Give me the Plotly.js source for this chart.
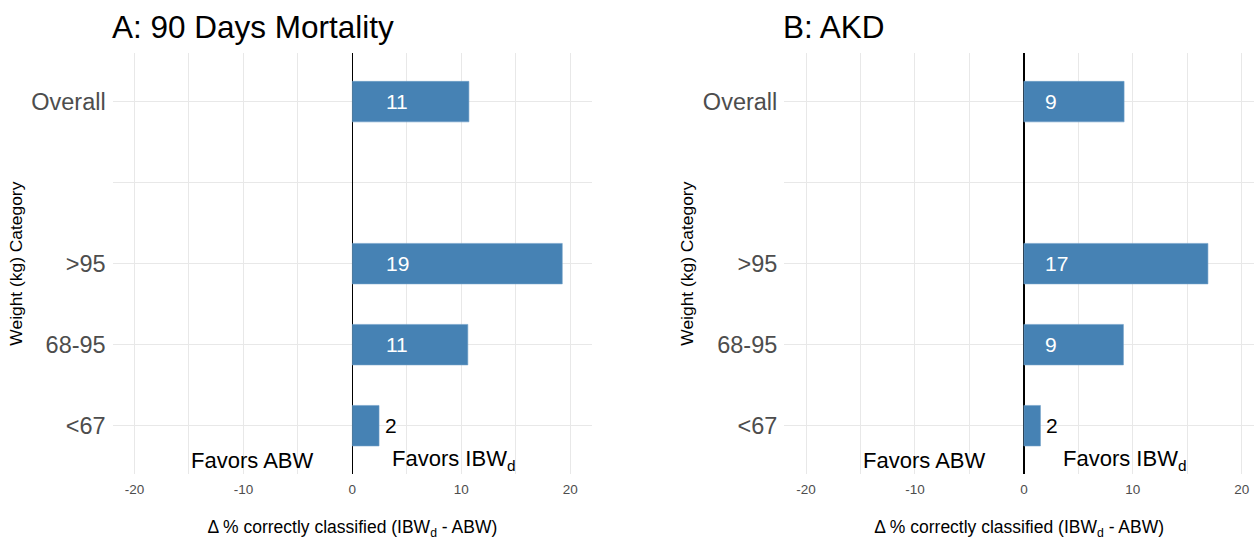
<!DOCTYPE html>
<html>
<head>
<meta charset="utf-8">
<script src="https://cdn.plot.ly/plotly-3.0.1.min.js"></script>
<style>html,body{margin:0;padding:0;background:#fff;}</style>
</head>
<body>
<div id="chart" style="width:1254px;height:540px;"></div>
<script>
// Weight categories, bottom to top; the empty entry is a spacer row above the subgroups
const categories = ['<67', '68-95', '>95', '', 'Overall'];
// Difference in % correctly classified (IBWd - ABW) per category
const mortalityDiff = [2.45, 10.6, 19.27, null, 10.7];
const akdDiff = [1.52, 9.14, 16.9, null, 9.2];
const panelTitles = ['A: 90 Days Mortality', 'B: AKD'];
const xTickVals = [-20, -10, 0, 10, 20];
const xTickText = ['-20', '-10', '0', '10', '20'];
const favorsLeftText = 'Favors ABW';
const favorsRightText = 'Favors IBW<sub>d</sub>';
const xTitleText = 'Δ % correctly classified (IBW<sub>d</sub> - ABW)';
const yTitleText = 'Weight (kg) Category';

const FONT = '"Liberation Sans", Arial, Helvetica, sans-serif';
const BAR_COLOR = '#4682b4';
const GRID = '#e8e8e8';

const W = 1254, H = 540;
const panels = [
  { values: mortalityDiff, xa: 'x', ya: 'y', left: 112.7, right: 592, range: [-22, 22], insideX: 3.15 },
  { values: akdDiff, xa: 'x2', ya: 'y2', left: 784.3, right: 1254, range: [-22, 21.13], insideX: 2.05 }
];
const plotTop = 53, plotBottom = 474.3;
const yIndex = categories.map((c, i) => i);

const traces = panels.map(p => ({
  type: 'bar',
  orientation: 'h',
  x: p.values,
  y: yIndex,
  width: 0.5,
  marker: { color: BAR_COLOR, line: { color: '#6f9fc8', width: 0.6 } },
  xaxis: p.xa,
  yaxis: p.ya,
  hoverinfo: 'skip',
  showlegend: false
}));

const annotations = [];
panels.forEach((p, k) => {
  // panel title
  annotations.push({
    xref: 'paper', yref: 'paper',
    x: p.left / W, y: 1 - 27 / H,
    xanchor: 'left', yanchor: 'middle', xshift: -3,
    text: panelTitles[k], showarrow: false,
    font: { family: FONT, size: 31.5, color: '#000' }
  });
  // value labels: white inside long bars, black just past short ones
  p.values.forEach((v, i) => {
    if (v === null) return;
    const inside = v > 5;
    annotations.push({
      xref: p.xa, yref: p.ya,
      x: inside ? p.insideX : v, y: yIndex[i],
      xanchor: 'left', yanchor: 'middle',
      xshift: inside ? -3 : 4,
      text: String(Math.round(v)), showarrow: false,
      font: { family: FONT, size: 21, color: inside ? '#ffffff' : '#000000' }
    });
  });
  // direction labels either side of zero
  annotations.push({
    xref: p.xa, yref: p.ya, x: -3.6, y: -0.4,
    xanchor: 'right', yanchor: 'middle', xshift: 2, yshift: -2,
    text: favorsLeftText, showarrow: false,
    font: { family: FONT, size: 22, color: '#000' }
  });
  annotations.push({
    xref: p.xa, yref: p.ya, x: 3.6, y: -0.4,
    xanchor: 'left', yanchor: 'middle', xshift: -2, yshift: -2,
    text: favorsRightText, showarrow: false,
    font: { family: FONT, size: 22, color: '#000' }
  });
});

function xAxis(p) {
  return {
    domain: [p.left / W, p.right / W],
    range: p.range,
    tickmode: 'array',
    tickvals: xTickVals,
    ticktext: xTickText,
    showgrid: true, gridcolor: GRID, gridwidth: 1,
    minor: { tickmode: 'linear', tick0: 0, dtick: 5, showgrid: true, gridcolor: GRID, gridwidth: 1, ticks: '' },
    zeroline: true, zerolinecolor: '#000', zerolinewidth: 1.6,
    showline: false, ticks: '',
    tickfont: { family: FONT, size: 13.5, color: '#4d4d4d' },
    ticklabelstandoff: 5,
    title: { text: xTitleText, font: { family: FONT, size: 17.5, color: '#000' }, standoff: 31 },
    fixedrange: true, automargin: false
  };
}
function yAxis(p) {
  return {
    domain: [1 - plotBottom / H, 1 - plotTop / H],
    range: [-0.6, 4.6],
    tickmode: 'array',
    tickvals: yIndex,
    ticktext: categories,
    showgrid: true, gridcolor: GRID, gridwidth: 1,
    zeroline: false, showline: false, ticks: '',
    tickfont: { family: FONT, size: 23.5, color: '#4d4d4d' },
    ticklabelstandoff: 6,
    anchor: p.xa,
    title: { text: yTitleText, font: { family: FONT, size: 17.4, color: '#000' }, standoff: 4 },
    fixedrange: true, automargin: false
  };
}

const layout = {
  width: W, height: H,
  margin: { l: 0, r: 0, t: 0, b: 0 },
  paper_bgcolor: '#fff', plot_bgcolor: '#fff',
  xaxis: Object.assign(xAxis(panels[0]), { anchor: 'y' }),
  yaxis: yAxis(panels[0]),
  xaxis2: Object.assign(xAxis(panels[1]), { anchor: 'y2' }),
  yaxis2: yAxis(panels[1]),
  annotations: annotations,
  bargap: 0
};

Plotly.newPlot('chart', traces, layout, { displayModeBar: false, staticPlot: true });
</script>
</body>
</html>
